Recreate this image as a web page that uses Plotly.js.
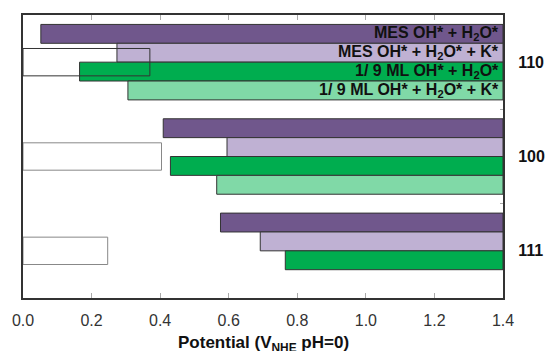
<!DOCTYPE html>
<html>
<head>
<meta charset="utf-8">
<script src="https://cdn.plot.ly/plotly-3.0.1.min.js"></script>
<style>html,body{margin:0;padding:0;background:#fff;}#chart{width:548px;height:351px;}</style>
</head>
<body>
<div id="chart"></div>
<script>
// Facets (categories, top to bottom)
const facets = ['110', '100', '111'];
// Onset potentials (left end of each bar, V_NHE pH=0); bars run up to the axis end
const mesOH_H2O      = [0.052, 0.409, 0.576];
const mesOH_H2O_K    = [0.274, 0.595, 0.692];
const mlOH_H2O       = [0.165, 0.430, 0.765];
const mlOH_H2O_K     = [0.306, 0.565, null];
// Reference (open) bars from 0
const reference      = [0.370, 0.404, 0.247];
// Series labels
const seriesNames = [
  'MES OH* + H<sub>2</sub>O*',
  'MES OH* + H<sub>2</sub>O* + K*',
  '1/ 9 ML OH* + H<sub>2</sub>O*',
  '1/ 9 ML OH* + H<sub>2</sub>O* + K*'
];
const seriesColors = ['#70578C', '#BFB1D3', '#00AD4F', '#80D9A7'];
const xTitle = '<b>Potential (V<sub>NHE</sub> pH=0)</b>';
const xMax = 1.4;

const FONT = 'Arial, "Liberation Sans", sans-serif';
const allSeries = [mesOH_H2O, mesOH_H2O_K, mlOH_H2O, mlOH_H2O_K];
const barW = 0.2;
const offsets = [-0.4, -0.2, 0, 0.2];

const traces = allSeries.map((vals, i) => {
  const ys = [], xs = [], bs = [];
  vals.forEach((v, j) => {
    if (v === null) return;
    ys.push(facets[j]); xs.push(xMax - v); bs.push(v);
  });
  return {
    type: 'bar', orientation: 'h',
    y: ys, x: xs, base: bs,
    width: barW, offset: offsets[i],
    marker: {color: seriesColors[i], line: {color: '#333', width: 1}},
    name: seriesNames[i], hoverinfo: 'skip'
  };
});

traces.push({
  type: 'bar', orientation: 'h',
  y: facets, x: reference, base: 0,
  width: 0.29, offset: -0.145,
  marker: {color: 'rgba(255,255,255,0)', line: {color: ['#333', '#888', '#888'], width: 1}},
  hoverinfo: 'skip'
});

// Series labels inside the first facet's bars
const annotations = seriesNames.map((t, i) => ({
  text: '<b>' + t + '</b>',
  x: xMax, xref: 'x', xanchor: 'right', xshift: -2,
  y: 0 + offsets[i] + barW / 2, yref: 'y', yanchor: 'middle',
  showarrow: false,
  font: {family: FONT, size: 16, color: '#111'}
}));
// X-axis title
annotations.push({
  text: xTitle, x: 0.5, xref: 'paper', xanchor: 'center',
  y: 0, yref: 'paper', yanchor: 'top', yshift: -33,
  showarrow: false,
  font: {family: FONT, size: 17, color: '#111'}
});

const layout = {
  width: 548, height: 351,
  margin: {l: 23, r: 45, t: 15, b: 53},
  paper_bgcolor: '#fff', plot_bgcolor: '#fff',
  barmode: 'overlay',
  showlegend: false,
  font: {family: FONT},
  xaxis: {
    range: [0, xMax], dtick: 0.2, tick0: 0, tickformat: '.1f',
    ticks: 'inside', ticklen: 5, tickcolor: '#aaa', tickwidth: 1,
    showline: true, mirror: 'ticks', linecolor: '#333', linewidth: 2,
    showgrid: false, zeroline: false,
    ticklabelstandoff: 7,
    tickfont: {family: FONT, size: 16, color: '#333'}
  },
  yaxis: {
    type: 'category', categoryorder: 'array', categoryarray: facets,
    range: [2.5, -0.5], side: 'right',
    tickson: 'boundaries', ticks: 'inside', ticklen: 3, tickcolor: '#aaa',
    showline: true, mirror: true, linecolor: '#333', linewidth: 2,
    showgrid: false, zeroline: false,
    ticklabelstandoff: 10,
    tickfont: {family: FONT, size: 16, color: '#111', weight: 'bold'}
  },
  annotations: annotations
};

Plotly.newPlot('chart', traces, layout, {staticPlot: true, displayModeBar: false});
</script>
</body>
</html>
